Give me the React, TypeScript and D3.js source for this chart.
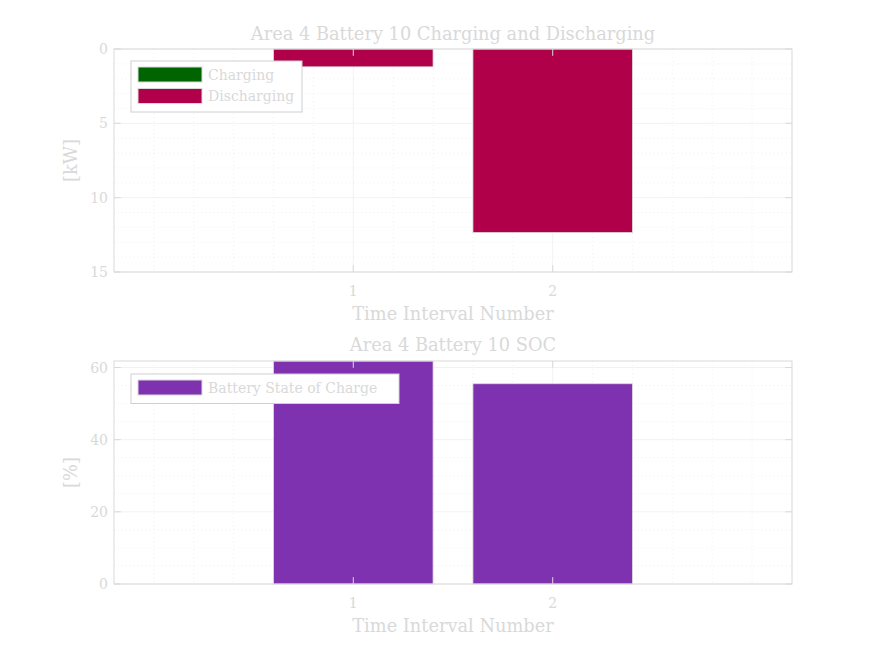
import React, { useRef, useEffect } from "react";
import * as d3 from "d3";

// data
const intervals = [1, 2];
const charging = [0, 0];
const discharging = [1.2, 12.35];
const soc = [61.8, 55.5];

const powerTicks = [0, 5, 10, 15];
const socTicks = [0, 20, 40, 60];

const FG = "#d9d9d9";
const FONT = "'DejaVu Serif', 'Liberation Serif', serif";

export default function App() {
  const ref = useRef<SVGSVGElement>(null);

  useEffect(() => {
    const svg = d3.select(ref.current);
    svg.selectAll("*").remove();

    const left = 114;
    const right = 792;

    const x = d3.scaleLinear().domain([-0.2, 3.2]).range([left, right]);

    // draws one MATLAB-like axes panel
    function panel(opts: {
      top: number;
      bottom: number;
      y: d3.ScaleLinear<number, number>;
      ticks: number[];
      minorStep: number;
      title: string;
      ylabel: string;
      titleY: number;
    }) {
      const { top, bottom, y, ticks, minorStep, title, ylabel, titleY } = opts;
      const g = svg.append("g");
      const [d0, d1] = y.domain();
      const lo = Math.min(d0, d1);
      const hi = Math.max(d0, d1);

      // minor grid
      const minorY = d3.range(lo, hi + 1e-9, minorStep).filter((v) => !ticks.includes(v));
      g.selectAll(".my")
        .data(minorY)
        .join("line")
        .attr("x1", left)
        .attr("x2", right)
        .attr("y1", (d) => y(d))
        .attr("y2", (d) => y(d))
        .attr("stroke", "#e6e6e6")
        .attr("stroke-width", 0.6)
        .attr("stroke-dasharray", "1,3");
      const minorX = d3.range(0, 3.2 + 1e-9, 0.2).filter((v) => Math.abs(v - 1) > 1e-6 && Math.abs(v - 2) > 1e-6);
      g.selectAll(".mx")
        .data(minorX)
        .join("line")
        .attr("x1", (d) => x(d))
        .attr("x2", (d) => x(d))
        .attr("y1", top)
        .attr("y2", bottom)
        .attr("stroke", "#e6e6e6")
        .attr("stroke-width", 0.6)
        .attr("stroke-dasharray", "1,3");

      // major grid
      g.selectAll(".gy")
        .data(ticks)
        .join("line")
        .attr("x1", left)
        .attr("x2", right)
        .attr("y1", (d) => y(d))
        .attr("y2", (d) => y(d))
        .attr("stroke", "#f2f2f2")
        .attr("stroke-width", 1);
      g.selectAll(".gx")
        .data(intervals)
        .join("line")
        .attr("x1", (d) => x(d))
        .attr("x2", (d) => x(d))
        .attr("y1", top)
        .attr("y2", bottom)
        .attr("stroke", "#f2f2f2")
        .attr("stroke-width", 1);

      const over = svg.append("g");
      const drawAxes = () => {
        over
          .append("rect")
          .attr("x", left)
          .attr("y", top)
          .attr("width", right - left)
          .attr("height", bottom - top)
          .attr("fill", "none")
          .attr("stroke", FG)
          .attr("stroke-width", 1);

        const tl = 6.8;
        ticks.forEach((t) => {
          over.append("line").attr("x1", left).attr("x2", left + tl).attr("y1", y(t)).attr("y2", y(t)).attr("stroke", FG);
          over.append("line").attr("x1", right).attr("x2", right - tl).attr("y1", y(t)).attr("y2", y(t)).attr("stroke", FG);
          over
            .append("text")
            .attr("x", left - 6)
            .attr("y", y(t))
            .attr("dy", "0.36em")
            .attr("text-anchor", "end")
            .attr("fill", FG)
            .style("font-size", "14px")
            .text(t);
        });
        intervals.forEach((t) => {
          over.append("line").attr("x1", x(t)).attr("x2", x(t)).attr("y1", bottom).attr("y2", bottom - tl).attr("stroke", FG);
          over.append("line").attr("x1", x(t)).attr("x2", x(t)).attr("y1", top).attr("y2", top + tl).attr("stroke", FG);
          over
            .append("text")
            .attr("x", x(t))
            .attr("y", bottom + 24)
            .attr("text-anchor", "middle")
            .attr("fill", FG)
            .style("font-size", "14px")
            .text(t);
        });

        // titles
        over
          .append("text")
          .attr("x", (left + right) / 2)
          .attr("y", titleY)
          .attr("text-anchor", "middle")
          .attr("fill", FG)
          .style("font-size", "17.8px")
          .text(title);
        over
          .append("text")
          .attr("x", (left + right) / 2)
          .attr("y", bottom + 48)
          .attr("text-anchor", "middle")
          .attr("fill", FG)
          .style("font-size", "17.8px")
          .text("Time Interval Number");
        over
          .append("text")
          .attr("transform", `translate(77,${(top + bottom) / 2}) rotate(-90)`)
          .attr("text-anchor", "middle")
          .attr("fill", FG)
          .style("font-size", "17.8px")
          .text(ylabel);
      };
      return { g, over, drawAxes };
    }

    function legend(parent: any, x0: number, y0: number, w: number, items: { label: string; color: string }[]) {
      const h = 8 + items.length * 21.5;
      const lg = parent.append("g");
      lg.append("rect")
        .attr("x", x0)
        .attr("y", y0)
        .attr("width", w)
        .attr("height", h)
        .attr("fill", "white")
        .attr("stroke", "#d0d0d0");
      items.forEach((it, i) => {
        const yy = y0 + 6 + i * 21.5;
        lg.append("rect")
          .attr("x", x0 + 7)
          .attr("y", yy)
          .attr("width", 64)
          .attr("height", 15)
          .attr("fill", it.color)
          .attr("stroke", "#d9d9d9");
        lg.append("text")
          .attr("x", x0 + 77)
          .attr("y", yy + 7.5)
          .attr("dy", "0.36em")
          .attr("fill", FG)
          .style("font-size", "14px")
          .text(it.label);
      });
    }

    svg.style("font-family", FONT);

    // ---- top: charging / discharging ----
    const yP = d3.scaleLinear().domain([0, 15]).range([49, 272]);
    const top = panel({
      top: 49,
      bottom: 272,
      y: yP,
      ticks: powerTicks,
      minorStep: 1,
      title: "Area 4 Battery 10 Charging and Discharging",
      ylabel: "[kW]",
      titleY: 40,
    });
    const barW = x(0.4) - x(0);
    top.g
      .selectAll(".chg")
      .data(intervals)
      .join("rect")
      .attr("x", (d) => x(d) - barW)
      .attr("y", yP(0))
      .attr("width", barW * 2)
      .attr("height", (d, i) => yP(charging[i]) - yP(0))
      .attr("fill", "#006400")
      .attr("stroke", charging.some((v) => v > 0) ? "#d9d9d9" : "none");
    top.g
      .selectAll(".dis")
      .data(intervals)
      .join("rect")
      .attr("x", (d) => x(d) - barW)
      .attr("y", (d, i) => yP(charging[i]))
      .attr("width", barW * 2)
      .attr("height", (d, i) => yP(charging[i] + discharging[i]) - yP(charging[i]))
      .attr("fill", "#b1004a")
      .attr("stroke", "#dcdcdc")
      .attr("stroke-width", 0.8);
    top.drawAxes();
    legend(top.over, 131, 61, 171, [
      { label: "Charging", color: "#006400" },
      { label: "Discharging", color: "#b1004a" },
    ]);

    // ---- bottom: SOC ----
    const yS = d3.scaleLinear().domain([0, 61.8]).range([584, 361]);
    const bot = panel({
      top: 361,
      bottom: 584,
      y: yS,
      ticks: socTicks,
      minorStep: 5,
      title: "Area 4 Battery 10 SOC",
      ylabel: "[%]",
      titleY: 351,
    });
    bot.g
      .selectAll(".soc")
      .data(intervals)
      .join("rect")
      .attr("x", (d) => x(d) - barW)
      .attr("y", (d, i) => yS(soc[i]))
      .attr("width", barW * 2)
      .attr("height", (d, i) => yS(0) - yS(soc[i]))
      .attr("fill", "#7f32b0")
      .attr("stroke", "#dcdcdc")
      .attr("stroke-width", 0.8);
    bot.drawAxes();
    legend(bot.over, 131, 374, 268, [{ label: "Battery State of Charge", color: "#7f32b0" }]);
  }, []);

  return (
    <svg
      ref={ref}
      width={876}
      height={657}
      style={{ position: "absolute", left: 0, top: 0, background: "white" }}
    />
  );
}
